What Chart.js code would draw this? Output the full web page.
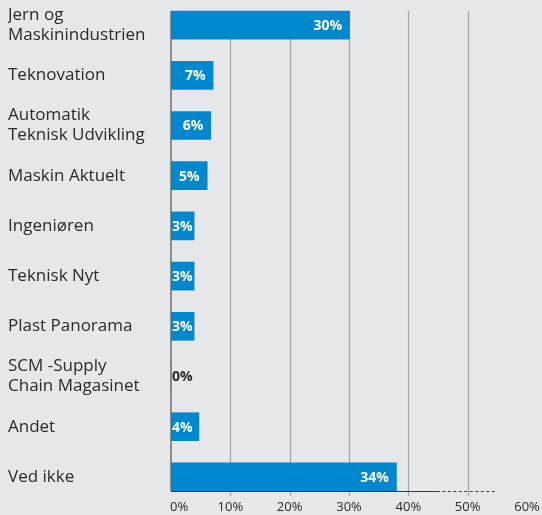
<!DOCTYPE html>
<html>
<head>
<meta charset="utf-8">
<script src="https://cdn.jsdelivr.net/npm/chart.js@4/dist/chart.umd.min.js"></script>
<style>
  html, body { margin: 0; padding: 0; background: #e6e7e9; }
  canvas { display: block; }
</style>
</head>
<body>
<canvas id="c" width="542" height="515"></canvas>
<script>
// Categories (publications)
const categories = [
  ["Jern og", "Maskinindustrien"],
  "Teknovation",
  ["Automatik", "Teknisk Udvikling"],
  "Maskin Aktuelt",
  "Ingeniøren",
  "Teknisk Nyt",
  "Plast Panorama",
  ["SCM -Supply", "Chain Magasinet"],
  "Andet",
  "Ved ikke"
];
// Printed share labels (%)
const shares = [30, 7, 6, 5, 3, 3, 3, 0, 4, 34];
// Bar lengths as drawn in the picture (% on the axis)
const barLengths = [30.1, 7.1, 6.7, 6.1, 3.9, 3.9, 3.9, 0, 4.7, 38.0];
// X axis tick labels
const xTicks = [0, 10, 20, 30, 40, 50, 60];
const gridValues = [10, 20, 30, 40, 50];

const BLUE = '#0088cf';
const FONT = '"Open Sans", "Noto Sans", sans-serif';

const decor = {
  id: 'decor',
  beforeDatasetsDraw(chart) {
    const ctx = chart.ctx;
    const x = chart.scales.x;
    const meta = chart.getDatasetMeta(0);
    const first = meta.data[0], last = meta.data[meta.data.length - 1];
    const top = first.y - first.height / 2;
    const bottom = last.y + last.height / 2;
    ctx.save();
    // vertical gridlines
    ctx.strokeStyle = '#a3a3a3';
    ctx.lineWidth = 1.2;
    gridValues.forEach(v => {
      const px = Math.round(x.getPixelForValue(v)) + 0.5;
      ctx.beginPath();
      ctx.moveTo(px, top);
      ctx.lineTo(px, bottom + 5);
      ctx.stroke();
    });
    // left axis line
    const x0 = x.getPixelForValue(0);
    ctx.strokeStyle = '#6e6e6e';
    ctx.lineWidth = 1.5;
    ctx.beginPath();
    ctx.moveTo(x0, top);
    ctx.lineTo(x0, bottom);
    ctx.stroke();
    ctx.restore();
  },
  afterDatasetsDraw(chart) {
    const ctx = chart.ctx;
    const x = chart.scales.x;
    const meta = chart.getDatasetMeta(0);
    const last = meta.data[meta.data.length - 1];
    const bottom = Math.round(last.y + last.height / 2) + 0.5;
    const x0 = x.getPixelForValue(0);
    ctx.save();
    // bottom axis line: solid then dashed
    ctx.strokeStyle = '#3a3a3a';
    ctx.lineWidth = 1;
    ctx.beginPath();
    ctx.moveTo(x0, bottom);
    ctx.lineTo(x.getPixelForValue(44.8), bottom);
    ctx.stroke();
    ctx.setLineDash([3, 2.5]);
    ctx.beginPath();
    ctx.moveTo(x.getPixelForValue(44.8), bottom);
    ctx.lineTo(x.getPixelForValue(54.9), bottom);
    ctx.stroke();
    ctx.setLineDash([]);

    // value labels
    ctx.font = 'bold 14px ' + FONT;
    ctx.textBaseline = 'middle';
    ctx.textAlign = 'left';
    meta.data.forEach((bar, i) => {
      const txt = shares[i] + '%';
      const w = ctx.measureText(txt).width;
      let tx = bar.x - 7.5 - w;
      if (tx < x0 + 1) tx = x0 + 1;
      ctx.fillStyle = shares[i] === 0 ? '#2a2a2a' : '#ffffff';
      ctx.fillText(txt, tx, bar.y + 1);
    });

    // x tick labels
    ctx.font = '13px ' + FONT;
    ctx.fillStyle = '#2a2a2a';
    ctx.textBaseline = 'middle';
    xTicks.forEach((v, i) => {
      const px = x.getPixelForValue(v);
      ctx.textAlign = i === 0 ? 'left' : 'center';
      ctx.fillText(v + '%', i === 0 ? px - 1 : px, 507);
    });
    ctx.restore();
  }
};

new Chart(document.getElementById('c'), {
  type: 'bar',
  data: {
    labels: categories,
    datasets: [{
      data: barLengths,
      backgroundColor: BLUE,
      borderWidth: 0,
      barThickness: 28
    }]
  },
  options: {
    indexAxis: 'y',
    responsive: false,
    devicePixelRatio: 1,
    animation: false,
    layout: { padding: { left: 8, right: 15, top: 0, bottom: 13 } },
    plugins: { legend: { display: false }, tooltip: { enabled: false } },
    scales: {
      x: {
        display: false,
        min: 0,
        max: 60
      },
      y: {
        grid: { display: false, drawTicks: false },
        border: { display: false },
        ticks: {
          crossAlign: 'far',
          color: '#2a2a2a',
          font: { family: FONT, size: 17, lineHeight: 1.18 },
          autoSkip: false
        },
        afterFit(scale) {
          scale.width = 163;
          scale.paddingTop = 0;
          scale.paddingBottom = 0;
        }
      }
    }
  },
  plugins: [decor]
});
</script>
</body>
</html>
